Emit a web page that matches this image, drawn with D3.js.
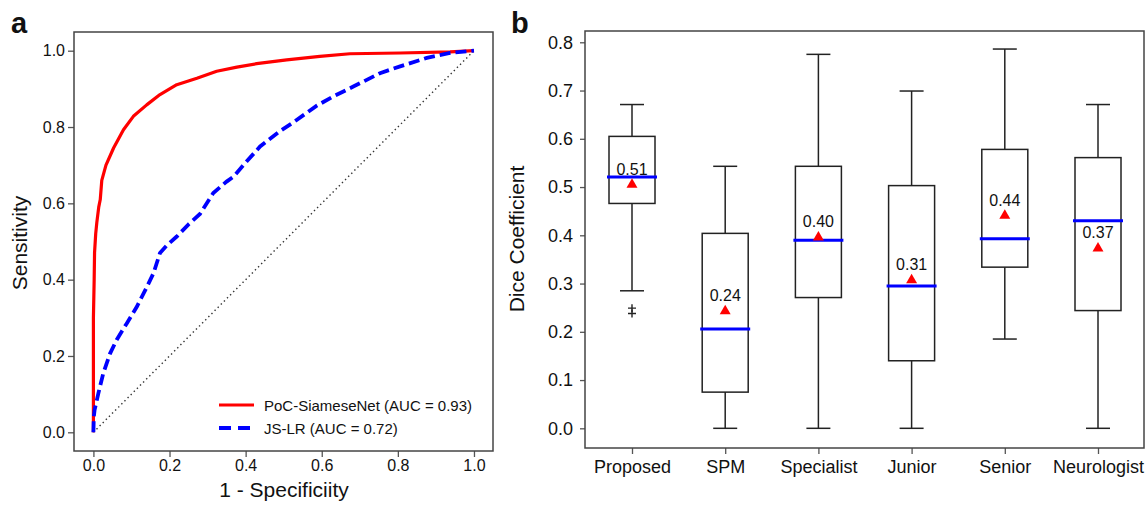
<!DOCTYPE html>
<html>
<head>
<meta charset="utf-8">
<script src="https://cdn.jsdelivr.net/npm/d3@7"></script>
<style>
  body { margin: 0; background: #fff; }
  svg text { font-family: "Liberation Sans", Arial, sans-serif; fill: #111; }
  .tick line { stroke: #555; stroke-width: 1.3; }
</style>
</head>
<body>
<svg id="chart" width="1148" height="505"></svg>
<script>
// ROC curves (panel a)
var siameseFpr = [0, 0, 0.002, 0.003, 0.006, 0.009, 0.014, 0.018, 0.022, 0.033, 0.053, 0.079, 0.105, 0.140, 0.175, 0.219, 0.272, 0.324, 0.377, 0.429, 0.508, 0.595, 0.674, 0.806, 0.937, 1];
var siameseTpr = [0, 0.30, 0.40, 0.47, 0.52, 0.55, 0.59, 0.61, 0.66, 0.70, 0.745, 0.793, 0.828, 0.858, 0.885, 0.911, 0.928, 0.946, 0.957, 0.966, 0.976, 0.985, 0.992, 0.994, 0.997, 1];
var jslrFpr = [0, 0.001, 0.003, 0.013, 0.026, 0.044, 0.061, 0.088, 0.114, 0.14, 0.158, 0.175, 0.193, 0.219, 0.25, 0.28, 0.315, 0.35, 0.368, 0.403, 0.438, 0.49, 0.525, 0.587, 0.63, 0.683, 0.753, 0.806, 0.876, 0.937, 1];
var jslrTpr = [0, 0.04, 0.058, 0.102, 0.155, 0.207, 0.242, 0.286, 0.329, 0.38, 0.417, 0.47, 0.49, 0.513, 0.545, 0.572, 0.627, 0.657, 0.67, 0.71, 0.749, 0.789, 0.812, 0.856, 0.88, 0.906, 0.941, 0.959, 0.981, 0.994, 1];
var legendLabels = ["PoC-SiameseNet (AUC = 0.93)", "JS-LR (AUC = 0.72)"];
var rocTicks = [0, 0.2, 0.4, 0.6, 0.8, 1.0];

// box plots (panel b)
var categories = ["Proposed", "SPM", "Specialist", "Junior", "Senior", "Neurologist"];
var whiskerLow = [0.285, 0, 0, 0, 0.185, 0];
var q1 = [0.466, 0.075, 0.271, 0.140, 0.334, 0.244];
var median = [0.521, 0.206, 0.390, 0.295, 0.393, 0.430];
var q3 = [0.605, 0.404, 0.543, 0.503, 0.578, 0.561];
var whiskerHigh = [0.671, 0.543, 0.775, 0.699, 0.786, 0.671];
var means = [0.505, 0.243, 0.396, 0.307, 0.441, 0.373];
var meanLabels = ["0.51", "0.24", "0.40", "0.31", "0.44", "0.37"];
var flierCats = ["Proposed", "Proposed"];
var flierVals = [0.249, 0.238];
var diceTicks = [0, 0.1, 0.2, 0.3, 0.4, 0.5, 0.6, 0.7, 0.8];

var svg = d3.select("#chart");

function drawRoc() {
  var x = d3.scaleLinear().domain([-0.051, 1.05]).range([74, 493]);
  var y = d3.scaleLinear().domain([-0.049, 1.049]).range([451, 32]);
  var g = svg.append("g");

  g.append("g")
      .attr("transform", "translate(0,451)")
      .call(d3.axisBottom(x).tickValues(rocTicks).tickFormat(d3.format(".1f")).tickSize(6).tickPadding(3))
      .call(a => a.select(".domain").remove())
      .selectAll("text").attr("font-size", 16);

  g.append("g")
      .attr("transform", "translate(74,0)")
      .call(d3.axisLeft(y).tickValues(rocTicks).tickFormat(d3.format(".1f")).tickSize(6).tickPadding(3))
      .call(a => a.select(".domain").remove())
      .selectAll("text").attr("font-size", 16);

  // chance line
  g.append("line")
      .attr("x1", x(0)).attr("y1", y(0))
      .attr("x2", x(1)).attr("y2", y(1))
      .attr("stroke", "#333")
      .attr("stroke-width", 1.4)
      .attr("stroke-dasharray", "1.4,3");

  var line = d3.line()
               .x(d => x(d[0]))
               .y(d => y(d[1]));

  g.append("path")
      .datum(d3.zip(siameseFpr, siameseTpr))
      .attr("d", line)
      .attr("fill", "none")
      .attr("stroke", "#ff0000")
      .attr("stroke-width", 3.2)
      .attr("stroke-linejoin", "round");

  g.append("path")
      .datum(d3.zip(jslrFpr, jslrTpr))
      .attr("d", line)
      .attr("fill", "none")
      .attr("stroke", "#0000ff")
      .attr("stroke-width", 3.8)
      .attr("stroke-dasharray", "11,5");

  g.append("rect")
      .attr("x", 74).attr("y", 32)
      .attr("width", 419).attr("height", 419)
      .attr("fill", "none")
      .attr("stroke", "#444")
      .attr("stroke-width", 1.5);

  // legend
  var styles = [{c: "#ff0000", w: 3.2, dash: null}, {c: "#0000ff", w: 3.8, dash: "12,7"}];
  legendLabels.forEach((lab, i) => {
    var ly = 405 + i * 23;
    g.append("line")
        .attr("x1", 219).attr("x2", 254)
        .attr("y1", ly).attr("y2", ly)
        .attr("stroke", styles[i].c)
        .attr("stroke-width", styles[i].w)
        .attr("stroke-dasharray", styles[i].dash);
    g.append("text")
        .attr("x", 264).attr("y", ly + 5.5)
        .attr("font-size", 15)
        .text(lab);
  });

  g.append("text")
      .attr("x", 284).attr("y", 497)
      .attr("font-size", 21)
      .style("text-anchor", "middle")
      .text("1 - Specificiity");

  g.append("text")
      .attr("transform", "translate(27,243) rotate(-90)")
      .attr("font-size", 21)
      .style("text-anchor", "middle")
      .text("Sensitivity");

  g.append("text")
      .attr("x", 11).attr("y", 33)
      .attr("font-size", 29)
      .attr("font-weight", "bold")
      .text("a");
}

function drawBoxes() {
  var x = d3.scalePoint().domain(categories).range([632, 1098]);
  var y = d3.scaleLinear().domain([-0.0408, 0.8234]).range([448, 31]);
  var g = svg.append("g");
  var half = 23, cap = 12;

  g.append("g")
      .attr("transform", "translate(0,448)")
      .call(d3.axisBottom(x).tickSize(6).tickPadding(6))
      .call(a => a.select(".domain").remove())
      .selectAll("text").attr("font-size", 18);

  g.append("g")
      .attr("transform", "translate(585,0)")
      .call(d3.axisLeft(y).tickValues(diceTicks).tickFormat(d3.format(".1f")).tickSize(5).tickPadding(7))
      .call(a => a.select(".domain").remove())
      .selectAll("text").attr("font-size", 18);

  var boxes = categories.map((c, i) => ({
    cat: c, lo: whiskerLow[i], q1: q1[i], med: median[i], q3: q3[i],
    hi: whiskerHigh[i], mean: means[i], label: meanLabels[i]
  }));

  var box = g.selectAll(".box")
             .data(boxes)
             .enter()
             .append("g")
               .classed("box", true)
               .attr("transform", d => "translate(" + x(d.cat) + ",0)");

  box.append("line")
      .attr("y1", d => y(d.q3)).attr("y2", d => y(d.hi))
      .attr("stroke", "#222").attr("stroke-width", 1.5);
  box.append("line")
      .attr("y1", d => y(d.q1)).attr("y2", d => y(d.lo))
      .attr("stroke", "#222").attr("stroke-width", 1.5);
  box.selectAll(".cap")
      .data(d => [d.lo, d.hi])
      .enter()
      .append("line")
        .attr("x1", -cap).attr("x2", cap)
        .attr("y1", v => y(v)).attr("y2", v => y(v))
        .attr("stroke", "#222").attr("stroke-width", 1.5);

  box.append("rect")
      .attr("x", -half)
      .attr("y", d => y(d.q3))
      .attr("width", half * 2)
      .attr("height", d => y(d.q1) - y(d.q3))
      .attr("fill", "none")
      .attr("stroke", "#222")
      .attr("stroke-width", 1.5);

  box.append("line")
      .attr("x1", -half - 2).attr("x2", half + 2)
      .attr("y1", d => y(d.med)).attr("y2", d => y(d.med))
      .attr("stroke", "#0000ff")
      .attr("stroke-width", 3);

  box.append("path")
      .attr("d", d3.symbol(d3.symbolTriangle, 52))
      .attr("transform", d => "translate(0," + y(d.mean) + ")")
      .attr("fill", "#ff0000");

  box.append("text")
      .attr("y", d => y(d.mean) - 10)
      .attr("font-size", 16)
      .style("text-anchor", "middle")
      .text(d => d.label);

  // outliers drawn as plus markers
  g.selectAll(".flier")
      .data(d3.zip(flierCats, flierVals))
      .enter()
      .append("path")
        .classed("flier", true)
        .attr("d", "M-4,0H4M0,-4V4")
        .attr("transform", d => "translate(" + x(d[0]) + "," + y(d[1]) + ")")
        .attr("stroke", "#222")
        .attr("stroke-width", 1.4);

  g.append("rect")
      .attr("x", 585).attr("y", 31)
      .attr("width", 559).attr("height", 417)
      .attr("fill", "none")
      .attr("stroke", "#444")
      .attr("stroke-width", 1.5);

  g.append("text")
      .attr("transform", "translate(524,239) rotate(-90)")
      .attr("font-size", 21)
      .style("text-anchor", "middle")
      .text("Dice Coefficient");

  g.append("text")
      .attr("x", 511).attr("y", 33)
      .attr("font-size", 29)
      .attr("font-weight", "bold")
      .text("b");
}

drawRoc();
drawBoxes();
</script>
</body>
</html>
